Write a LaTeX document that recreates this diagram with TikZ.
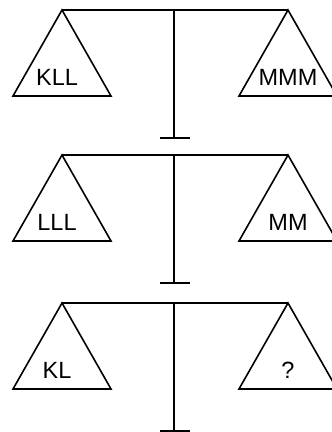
\documentclass[tikz,border=0pt]{standalone}
\usepackage{fontspec}
\setmainfont{Liberation Sans}

\begin{document}
\begin{tikzpicture}[x=1pt,y=-1pt,
  bar/.style={line width=1.6pt},
  pan/.style={line width=1.6pt,line join=miter},
  load/.style={font=\fontsize{23.5}{27}\selectfont,inner sep=0pt,anchor=base}]
  \useasboundingbox (0,0) rectangle (332,432);
  \clip (0,0) rectangle (332,432);
  % three balances, one below the other
  \foreach \y/\lw/\rw [count=\i] in {10/KLL/MMM,155/LLL/MM,303/KL/?} {
    \coordinate (la\i) at (62,\y);
    \coordinate (ra\i) at (288,\y);
    \coordinate (top\i) at (174,\y);
    \coordinate (foot\i) at (174,\y+128);
    % beam, pole and foot
    \draw[bar] (la\i) -- (ra\i);
    \draw[bar] (top\i) -- (foot\i);
    \draw[bar] ([xshift=-14pt]foot\i) -- ([xshift=16pt]foot\i);
    % pans
    \draw[pan] (la\i) -- ++(-49,86) -- ++(98,0) -- cycle;
    \draw[pan] (ra\i) -- ++(-49,86) -- ++(98,0) -- cycle;
    \node[load] (lw\i) at (57,\y+75) {\lw};
    \node[load] (rw\i) at (288,\y+75) {\rw};
  }
\end{tikzpicture}
\end{document}
